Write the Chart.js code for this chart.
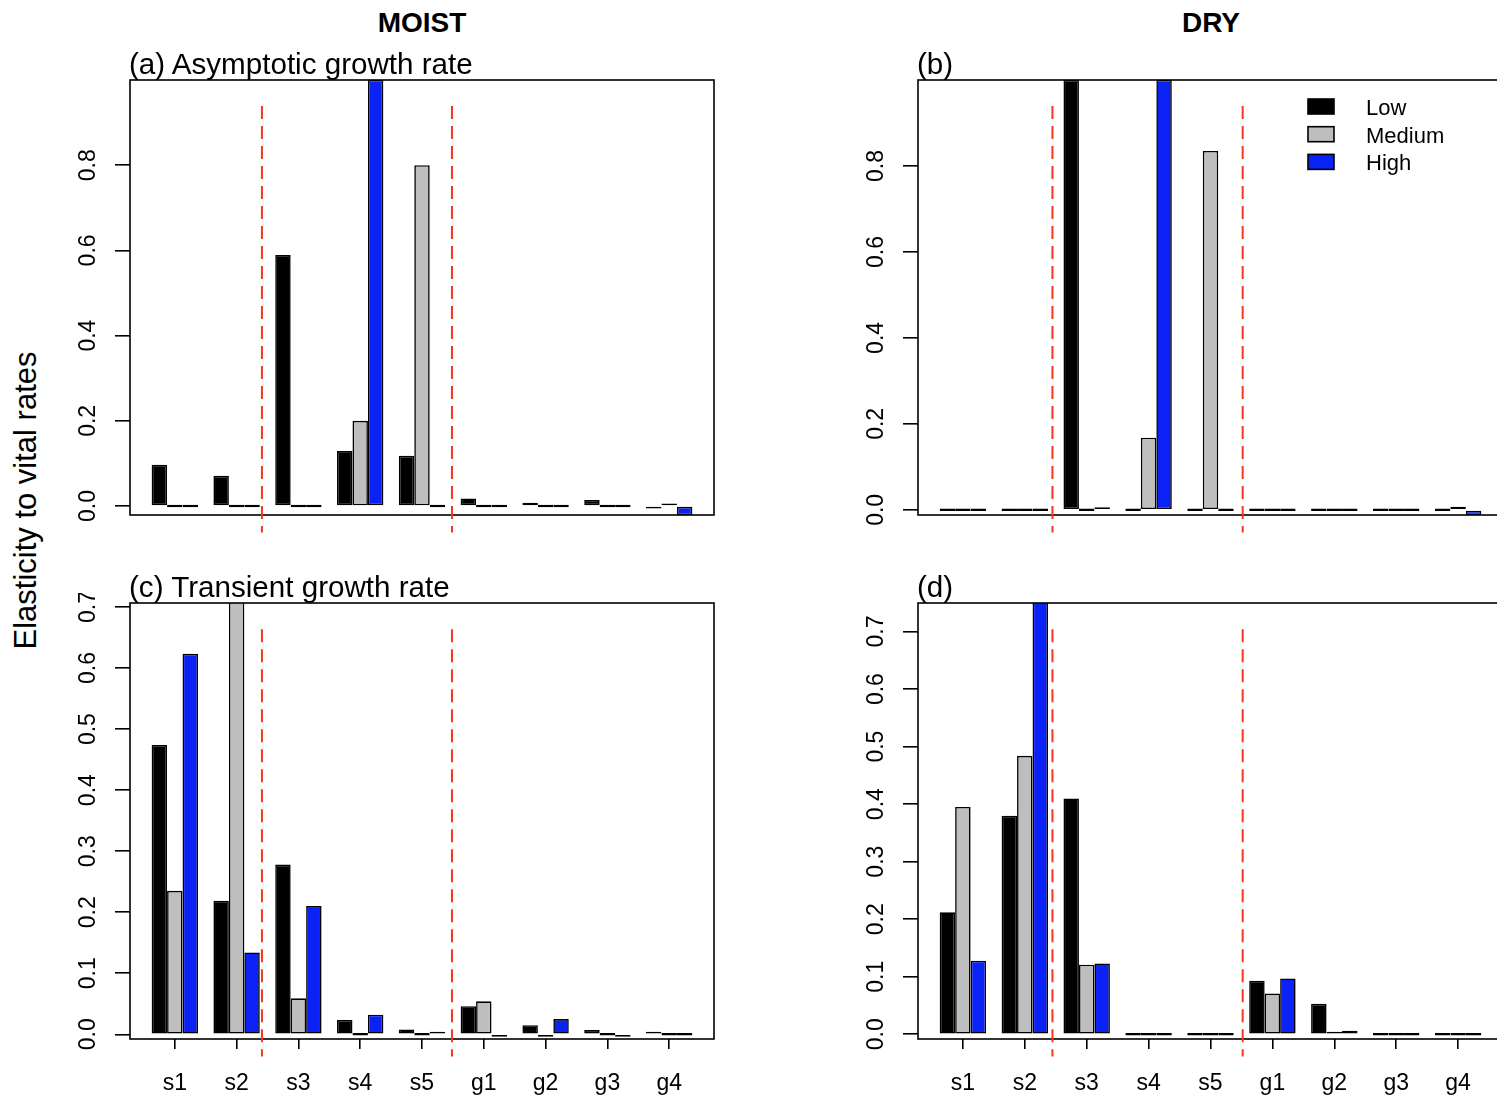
<!DOCTYPE html>
<html>
<head>
<meta charset="utf-8">
<title>Elasticity to vital rates</title>
<script src="https://cdn.jsdelivr.net/npm/chart.js@4.4.1/dist/chart.umd.min.js"></script>
<style>
  html, body { margin: 0; padding: 0; background: #fff; overflow: hidden; }
  #page { position: relative; width: 1497px; height: 1100px; overflow: hidden;
          font-family: 'Liberation Sans', Arial, Helvetica, sans-serif; color: #000; }
  canvas { position: absolute; }
  .txt { position: absolute; white-space: nowrap; line-height: 1; }
</style>
</head>
<body>
<div id="page">
  <canvas id="panelA" width="674" height="475" style="left:60px;top:70px"></canvas>
  <canvas id="panelB" width="675" height="475" style="left:848px;top:70px"></canvas>
  <canvas id="panelC" width="674" height="507" style="left:60px;top:593px"></canvas>
  <canvas id="panelD" width="675" height="507" style="left:848px;top:593px"></canvas>

  <div class="txt" style="left:322px;width:200px;text-align:center;top:9px;font-size:28px;font-weight:bold">MOIST</div>
  <div class="txt" style="left:1111px;width:200px;text-align:center;top:9px;font-size:28px;font-weight:bold">DRY</div>
  <div class="txt" style="left:129px;top:49px;font-size:29.6px">(a) Asymptotic growth rate</div>
  <div class="txt" style="left:917px;top:49px;font-size:29.6px">(b)</div>
  <div class="txt" style="left:129px;top:572px;font-size:29.6px">(c) Transient growth rate</div>
  <div class="txt" style="left:917px;top:572px;font-size:29.6px">(d)</div>
  <div class="txt" style="left:-174.7px;top:484.5px;width:400px;text-align:center;font-size:31px;transform:rotate(-90deg)">Elasticity to vital rates</div>
</div>

<script>
// 資料
const CATEGORIES = ['s1', 's2', 's3', 's4', 's5', 'g1', 'g2', 'g3', 'g4'];
const SERIES = ['Low', 'Medium', 'High'];

// (a) moist, asymptotic
const MOIST_ASYM_LOW    = [0.097, 0.071, 0.589, 0.129, 0.118, 0.018, 0.008, 0.014, -0.006];
const MOIST_ASYM_MEDIUM = [0, 0, 0, 0.200, 0.800, 0, 0, 0, 0.003];
const MOIST_ASYM_HIGH   = [0, 0, 0, 1.000, 0, 0, 0, 0, -0.021];

// (b) dry, asymptotic
const DRY_ASYM_LOW    = [0, 0, 1.000, 0, 0, 0, 0, 0, 0];
const DRY_ASYM_MEDIUM = [0, 0, 0, 0.168, 0.835, 0, 0, 0, 0.007];
const DRY_ASYM_HIGH   = [0, 0, 0.005, 1.000, 0, 0, 0, 0, -0.012];

// (c) moist, transient
const MOIST_TRANS_LOW    = [0.474, 0.219, 0.278, 0.0235, 0.008, 0.046, 0.015, 0.007, 0.002];
const MOIST_TRANS_MEDIUM = [0.235, 0.720, 0.059, 0, 0, 0.054, -0.003, 0, 0];
const MOIST_TRANS_HIGH   = [0.6235, 0.134, 0.210, 0.032, 0.001, -0.004, 0.025, -0.001, 0];

// (d) dry, transient
const DRY_TRANS_LOW    = [0.212, 0.380, 0.410, 0, 0, 0.093, 0.053, 0, 0];
const DRY_TRANS_MEDIUM = [0.395, 0.484, 0.121, 0, 0, 0.071, 0.002, 0, 0];
const DRY_TRANS_HIGH   = [0.128, 0.760, 0.123, 0, 0, 0.097, 0.006, 0, 0];

// 軸
const ASYM_TICKS  = [0, 0.2, 0.4, 0.6, 0.8];
const TRANS_TICKS = [0, 0.1, 0.2, 0.3, 0.4, 0.5, 0.6, 0.7];
const MOIST_ASYM_RANGE  = [-0.021, 1.0];
const DRY_ASYM_RANGE    = [-0.012, 1.0];
const MOIST_TRANS_RANGE = [-0.0077, 0.7066];
const DRY_TRANS_RANGE   = [-0.0082, 0.7496];

// 分隔線 (x in group index units)
const MOIST_DIVIDERS = [1.41, 4.485];
const DRY_DIVIDERS   = [1.447, 4.52];

const FONT = "'Liberation Sans', Arial, Helvetica, sans-serif";
const SERIES_COLORS = ['#000000', '#bebebe', '#0a22f5'];

// box + red dashed dividers
const boxAndDividers = {
  id: 'boxAndDividers',
  afterDatasetsDraw(chart, args, opts) {
    const { ctx, chartArea: a, scales: { x, y } } = chart;
    ctx.save();
    ctx.strokeStyle = '#000';
    ctx.lineWidth = 1.6;
    ctx.strokeRect(a.left, a.top, a.right - a.left, a.bottom - a.top);
    ctx.strokeStyle = '#f7361d';
    ctx.lineWidth = 2;
    ctx.setLineDash([13, 7]);
    (opts.dividers || []).forEach(v => {
      const px = x.getPixelForValue(v);
      ctx.beginPath();
      ctx.moveTo(px, y.getPixelForDecimal(0.94));
      ctx.lineTo(px, y.getPixelForDecimal(-0.04));
      ctx.stroke();
    });
    ctx.restore();
  }
};

// R style rotated y tick labels
const rotatedYLabels = {
  id: 'rotatedYLabels',
  afterDraw(chart) {
    const { ctx, chartArea: a, scales: { y } } = chart;
    ctx.save();
    ctx.fillStyle = '#000';
    ctx.font = '23px ' + FONT;
    ctx.textAlign = 'center';
    ctx.textBaseline = 'alphabetic';
    y.ticks.forEach(t => {
      ctx.save();
      ctx.translate(a.left - 35, y.getPixelForValue(t.value));
      ctx.rotate(-Math.PI / 2);
      ctx.fillText(t.value.toFixed(1), 0, 0);
      ctx.restore();
    });
    ctx.restore();
  }
};

// legend at top right of the plot region
const rLegend = {
  id: 'rLegend',
  afterDraw(chart, args, opts) {
    if (!opts.show) return;
    const { ctx, chartArea: a } = chart;
    ctx.save();
    ctx.font = '22px ' + FONT;
    ctx.textAlign = 'left';
    ctx.textBaseline = 'alphabetic';
    chart.data.datasets.forEach((ds, k) => {
      const top = a.top + 19 + k * 27.7;
      const left = a.right - 195;
      ctx.fillStyle = ds.backgroundColor;
      ctx.fillRect(left, top, 26, 15);
      ctx.strokeStyle = '#000';
      ctx.lineWidth = 1.6;
      ctx.strokeRect(left, top, 26, 15);
      ctx.fillStyle = '#000';
      ctx.fillText(ds.label, a.right - 137, top + 16);
    });
    ctx.restore();
  }
};

function makePanel(canvasId, series, range, yTicks, dividers, showX, showLegend) {
  return new Chart(document.getElementById(canvasId), {
    type: 'bar',
    data: {
      datasets: SERIES.map((name, k) => ({
        label: name,
        data: series[k].map((v, i) => ({ x: i, y: v })),
        backgroundColor: SERIES_COLORS[k],
        borderColor: '#000',
        borderWidth: 1.6,
        borderSkipped: false,
        minBarLength: 2.5,
        categoryPercentage: 0.75,
        barPercentage: 1.0,
        clip: 0
      }))
    },
    options: {
      responsive: false,
      animation: false,
      events: [],
      layout: { padding: { left: 0, top: 10, right: 20, bottom: showX ? 0 : 30 } },
      plugins: {
        legend: { display: false },
        tooltip: { enabled: false },
        boxAndDividers: { dividers: dividers },
        rLegend: { show: showLegend }
      },
      scales: {
        x: {
          type: 'linear',
          min: -0.725,
          max: 8.725,
          offset: false,
          afterBuildTicks: s => { s.ticks = CATEGORIES.map((c, i) => ({ value: i })); },
          afterFit: s => { s.height = showX ? 61 : 0; },
          border: { display: false },
          grid: { display: showX, offset: false, drawOnChartArea: false, drawTicks: true, tickLength: 10, color: '#000', lineWidth: 1.6 },
          ticks: {
            display: showX, autoSkip: false, maxRotation: 0, minRotation: 0, padding: 21,
            color: '#000', font: { family: FONT, size: 23 },
            callback: v => CATEGORIES[v]
          }
        },
        y: {
          type: 'linear',
          min: range[0],
          max: range[1],
          afterBuildTicks: s => { s.ticks = yTicks.map(v => ({ value: v })); },
          afterFit: s => { s.width = 70; },
          border: { display: false },
          grid: { drawOnChartArea: false, drawTicks: true, tickLength: 15, color: '#000', lineWidth: 1.6 },
          ticks: { display: false }
        }
      }
    },
    plugins: [boxAndDividers, rotatedYLabels, rLegend]
  });
}

makePanel('panelA', [MOIST_ASYM_LOW, MOIST_ASYM_MEDIUM, MOIST_ASYM_HIGH], MOIST_ASYM_RANGE, ASYM_TICKS, MOIST_DIVIDERS, false, false);
makePanel('panelB', [DRY_ASYM_LOW, DRY_ASYM_MEDIUM, DRY_ASYM_HIGH], DRY_ASYM_RANGE, ASYM_TICKS, DRY_DIVIDERS, false, true);
makePanel('panelC', [MOIST_TRANS_LOW, MOIST_TRANS_MEDIUM, MOIST_TRANS_HIGH], MOIST_TRANS_RANGE, TRANS_TICKS, MOIST_DIVIDERS, true, false);
makePanel('panelD', [DRY_TRANS_LOW, DRY_TRANS_MEDIUM, DRY_TRANS_HIGH], DRY_TRANS_RANGE, TRANS_TICKS, DRY_DIVIDERS, true, false);
</script>
</body>
</html>
